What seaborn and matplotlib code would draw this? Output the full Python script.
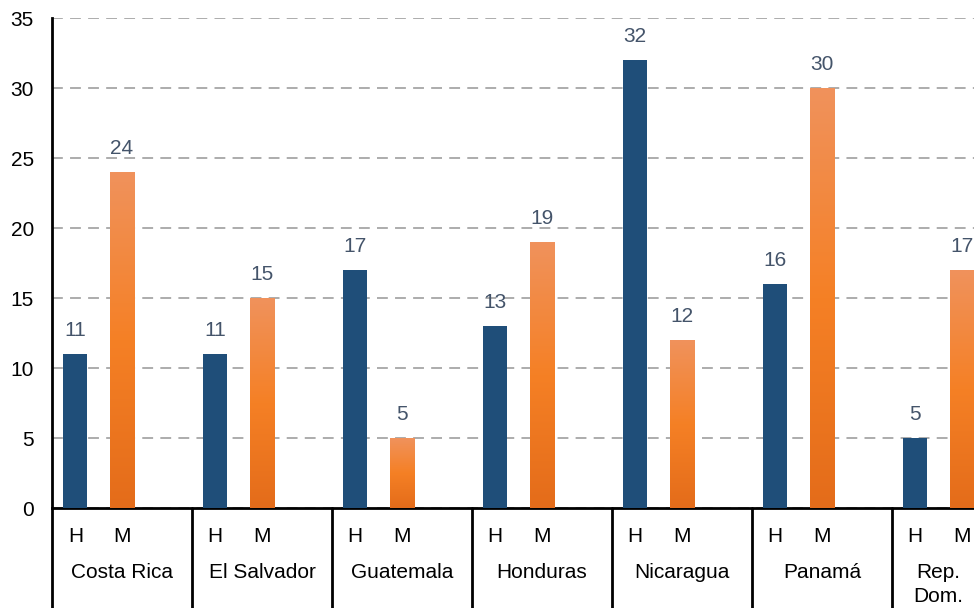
import numpy as np
import pandas as pd
import matplotlib.pyplot as plt
import matplotlib.transforms as mtransforms
from matplotlib.colors import LinearSegmentedColormap
import seaborn as sns

# data
paises = ["Costa Rica", "El Salvador", "Guatemala", "Honduras", "Nicaragua", "Panamá", "Rep.\nDom."]
hombres = [11, 11, 17, 13, 32, 16, 5]
mujeres = [24, 15, 5, 19, 12, 30, 17]
sexos = ["H", "M"]

sns.set_theme(style="white")
plt.rcParams['font.family'] = ['Liberation Sans', 'DejaVu Sans']

# each country takes 3 slots: H, M and an empty gap
rows = []
for i, p in enumerate(paises):
    rows.append({"pos": 3 * i, "valor": hombres[i], "sexo": "H", "pais": p})
    rows.append({"pos": 3 * i + 1, "valor": mujeres[i], "sexo": "M", "pais": p})
df = pd.DataFrame(rows)

fig = plt.figure(figsize=(9.74, 6.08), dpi=100)
ax = fig.add_axes([52 / 974, 100 / 608, 1 - 52 / 974, 490 / 608])

blue = "#1F4E79"
orange = "#F08A3C"
sns.barplot(data=df, x="pos", y="valor", hue="sexo", native_scale=True, dodge=False,
            palette={"H": blue, "M": orange}, width=0.52, legend=False, ax=ax,
            saturation=1, linewidth=0, zorder=3)

ax.set_xlim(-0.5, 19.26)
ax.set_ylim(0, 35)
ax.set_yticks(range(0, 36, 5))
ax.tick_params(axis="y", labelsize=15, pad=13, length=0, labelcolor="black")
ax.set_xticks([])
ax.set_xlabel("")
ax.set_ylabel("")

# dashed grid
ax.yaxis.grid(True, linestyle=(0, (6, 4)), color="#A6A6A6", linewidth=1.3, zorder=0)
ax.set_axisbelow(True)

for s in ["top", "right"]:
    ax.spines[s].set_visible(False)
ax.spines["left"].set_color("black")
ax.spines["left"].set_linewidth(2)
ax.spines["bottom"].set_color("black")
ax.spines["bottom"].set_linewidth(2)

# gradient fill on the orange bars
cmap = LinearSegmentedColormap.from_list("naranja", ["#E46C1A", "#F58025", "#F0925C"])
grad = np.linspace(0, 1, 256).reshape(-1, 1)
for patch in ax.patches:
    if patch.get_height() > 0 and abs(patch.get_x() + patch.get_width() / 2) % 3 > 0.5:
        x0, y0 = patch.get_x(), patch.get_y()
        x1, y1 = x0 + patch.get_width(), y0 + patch.get_height()
        im = ax.imshow(grad, extent=[x0, x1, y0, y1], origin="lower", aspect="auto",
                       cmap=cmap, zorder=4)
        im.set_clip_path(patch)

ax.set_xlim(-0.5, 19.26)
ax.set_ylim(0, 35)

# value labels
for _, r in df.iterrows():
    ax.text(r["pos"], r["valor"] + 1.0, f"{r['valor']:.0f}", ha="center", va="bottom",
            fontsize=15, color="#44546A", zorder=5)

# category table below the axis
trans = mtransforms.blended_transform_factory(ax.transData, ax.transAxes)
for k in range(len(paises) + 1):
    ax.plot([3 * k - 0.5, 3 * k - 0.5], [0, -100 / 490], color="black", lw=2,
            transform=trans, clip_on=False)
for i, p in enumerate(paises):
    for j, s in enumerate(sexos):
        ax.text(3 * i + j, -28 / 490, s, transform=trans, ha="center", va="center",
                fontsize=15, color="black")
    lines = p.split("\n")
    # last (clipped) group is centred between its two bars
    xc = 3 * i + (0.5 if len(lines) > 1 else 1)
    for n, t in enumerate(lines):
        ax.text(xc, (-65 - 23 * n) / 490, t, transform=trans, ha="center", va="center",
                fontsize=15, color="black")

fig.savefig("out.png", dpi=100)
